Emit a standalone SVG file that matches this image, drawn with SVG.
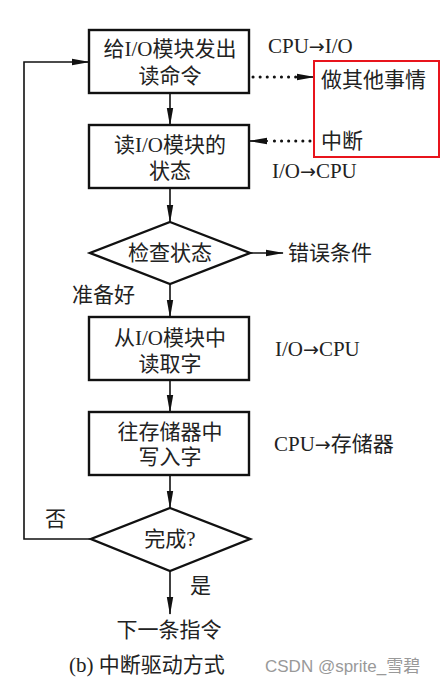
<svg xmlns="http://www.w3.org/2000/svg" width="445" height="688" viewBox="0 0 445 688">
<defs>
<marker id="ah" markerWidth="18" markerHeight="8" refX="17" refY="4" orient="auto" markerUnits="userSpaceOnUse">
<path d="M0,0.8 L18,4 L0,7.2 Z" fill="#111"/>
</marker>
<style>
.box{fill:#fff;stroke:#111;stroke-width:2.4}
.ln{fill:none;stroke:#111;stroke-width:1.6}
.dot{fill:none;stroke:#111;stroke-width:3;stroke-linecap:round;stroke-dasharray:0.1 7}
.t{font-family:"Liberation Serif","Noto Sans CJK SC",serif;font-size:21px;fill:#222;text-anchor:middle;dominant-baseline:central}
.l{text-anchor:start}
.ar{font-family:"DejaVu Sans",sans-serif;font-size:19px}
.wm{font-family:"Liberation Sans","Noto Sans CJK SC",sans-serif;font-size:17px;fill:#999;dominant-baseline:central}
</style>
</defs>
<rect width="445" height="688" fill="#fff"/>
<g id="connectors">
<line class="ln" x1="170" y1="93" x2="170" y2="125" marker-end="url(#ah)"/>
<line class="ln" x1="170" y1="188" x2="170" y2="222" marker-end="url(#ah)"/>
<line class="ln" x1="250" y1="253" x2="283" y2="253" marker-end="url(#ah)"/>
<line class="ln" x1="170" y1="284" x2="170" y2="317" marker-end="url(#ah)"/>
<line class="ln" x1="170" y1="380" x2="170" y2="412" marker-end="url(#ah)"/>
<line class="ln" x1="170" y1="475" x2="170" y2="508" marker-end="url(#ah)"/>
<line class="ln" x1="170" y1="571" x2="170" y2="614" marker-end="url(#ah)"/>
<polyline class="ln" points="90,539 24,539 24,62 89,62" marker-end="url(#ah)"/>
<line class="dot" x1="253" y1="77" x2="300" y2="77"/>
<line class="ln" x1="298" y1="77" x2="314" y2="77" marker-end="url(#ah)"/>
<line class="dot" x1="310" y1="141" x2="268" y2="141"/>
<line class="ln" x1="268" y1="141" x2="250" y2="141" marker-end="url(#ah)"/>
</g>
<g id="n1"><rect class="box" x="89" y="30" width="160" height="63"/><text class="t" x="170" y="49">给I/O模块发出</text><text class="t" x="170" y="76">读命令</text></g>
<g id="n2"><rect class="box" x="89" y="125" width="160" height="63"/><text class="t" x="170" y="145">读I/O模块的</text><text class="t" x="170" y="171">状态</text></g>
<g id="n3"><polygon class="box" points="170,222 250,253 170,284 90,253"/><text class="t" x="170" y="253">检查状态</text></g>
<g id="n4"><rect class="box" x="89" y="317" width="160" height="63"/><text class="t" x="170" y="338">从I/O模块中</text><text class="t" x="170" y="364">读取字</text></g>
<g id="n5"><rect class="box" x="89" y="412" width="160" height="63"/><text class="t" x="170" y="432">往存储器中</text><text class="t" x="170" y="457">写入字</text></g>
<g id="n6"><polygon class="box" points="170,508 250,539 170,571 91,539"/><text class="t" x="170" y="539">完成?</text></g>
<g id="err"><text class="t l" x="288" y="253">错误条件</text></g>
<g id="next"><text class="t" x="169" y="630">下一条指令</text></g>
<g id="other">
<rect x="314" y="61" width="125" height="96" fill="none" stroke="#e8141c" stroke-width="2"/>
<text class="t l" x="321" y="80">做其他事情</text>
<text class="t l" x="321" y="141">中断</text>
</g>
<g id="labels">
<text class="t l" x="268" y="46">CPU<tspan class="ar">→</tspan>I/O</text>
<text class="t l" x="272" y="171">I/O<tspan class="ar">→</tspan>CPU</text>
<text class="t l" x="72" y="295">准备好</text>
<text class="t l" x="275" y="349">I/O<tspan class="ar">→</tspan>CPU</text>
<text class="t l" x="274" y="444">CPU<tspan class="ar">→</tspan>存储器</text>
<text class="t l" x="45" y="519">否</text>
<text class="t l" x="190" y="586">是</text>
<text class="t l" x="69" y="665">(b) 中断驱动方式</text>
<text class="wm" x="265" y="666">CSDN @sprite_雪碧</text>
</g>
</svg>
